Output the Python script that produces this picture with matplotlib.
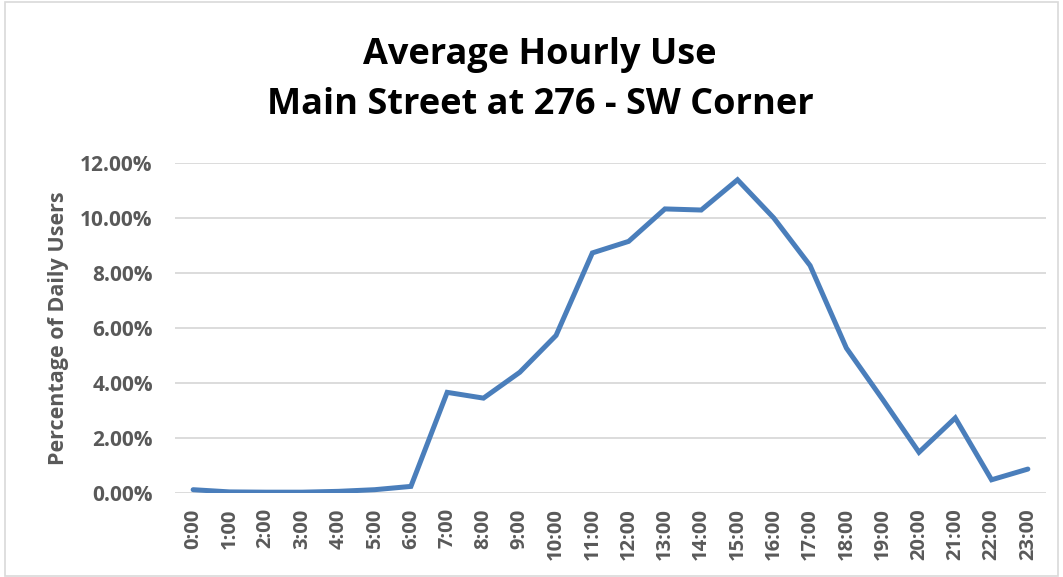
import matplotlib
matplotlib.use("Agg")
import matplotlib.pyplot as plt
from matplotlib.ticker import FuncFormatter
from matplotlib.patches import Rectangle

hours = [f"{h}:00" for h in range(24)]
usage_pct = [0.12, 0.04, 0.03, 0.03, 0.06, 0.12, 0.24, 3.66, 3.45, 4.39, 5.73, 8.73,
             9.15, 10.33, 10.29, 11.39, 10.00, 8.27, 5.27, 3.40, 1.48, 2.73, 0.48, 0.87]
y_ticks = [0, 2, 4, 6, 8, 10, 12]
title_lines = ["Average Hourly Use", "Main Street at 276 - SW Corner"]
y_label = "Percentage of Daily Users"

plt.rcParams['font.family'] = ['Open Sans', 'DejaVu Sans']

fig = plt.figure(figsize=(10.63, 5.77), dpi=100)
ax = fig.add_axes([175/1063, 1 - 493/577, (1046-175)/1063, (493-163)/577])

ax.plot(range(len(hours)), usage_pct, color='#4A7EBB', linewidth=3.6, solid_joinstyle='miter', solid_capstyle='round')
ax.set_xlim(-0.5, len(hours) - 0.5)
ax.set_ylim(0, 12)
ax.set_yticks(y_ticks)
ax.yaxis.set_major_formatter(FuncFormatter(lambda v, p: f"{v:.2f}%"))
ax.set_xticks(range(len(hours)))
ax.set_xticklabels(hours, rotation=90)
ax.grid(axis='y', color='#D9D9D9', linewidth=1.3)
ax.set_axisbelow(True)
for s in ax.spines.values():
    s.set_visible(False)
ax.tick_params(axis='x', length=0, labelsize=14.5, labelcolor='#595959', pad=11)
ax.tick_params(axis='y', length=0, labelsize=15, labelcolor='#595959', pad=16)
for lbl in ax.get_xticklabels() + ax.get_yticklabels():
    lbl.set_fontweight('bold')
ax.set_ylabel(y_label, fontsize=15.5, fontweight='bold', color='#595959', labelpad=8)

fig.text(540/1063, 1 - 55/577, title_lines[0], ha='center', va='center', fontsize=26, fontweight='bold', color='black')
fig.text(540/1063, 1 - 105/577, title_lines[1], ha='center', va='center', fontsize=26, fontweight='bold', color='black')

fig.patches.append(Rectangle((5/1063, 0.002), 1 - 10/1063, 0.995, transform=fig.transFigure,
                             fill=False, edgecolor='#D9D9D9', linewidth=1.2))

fig.savefig("out.png", dpi=100)
